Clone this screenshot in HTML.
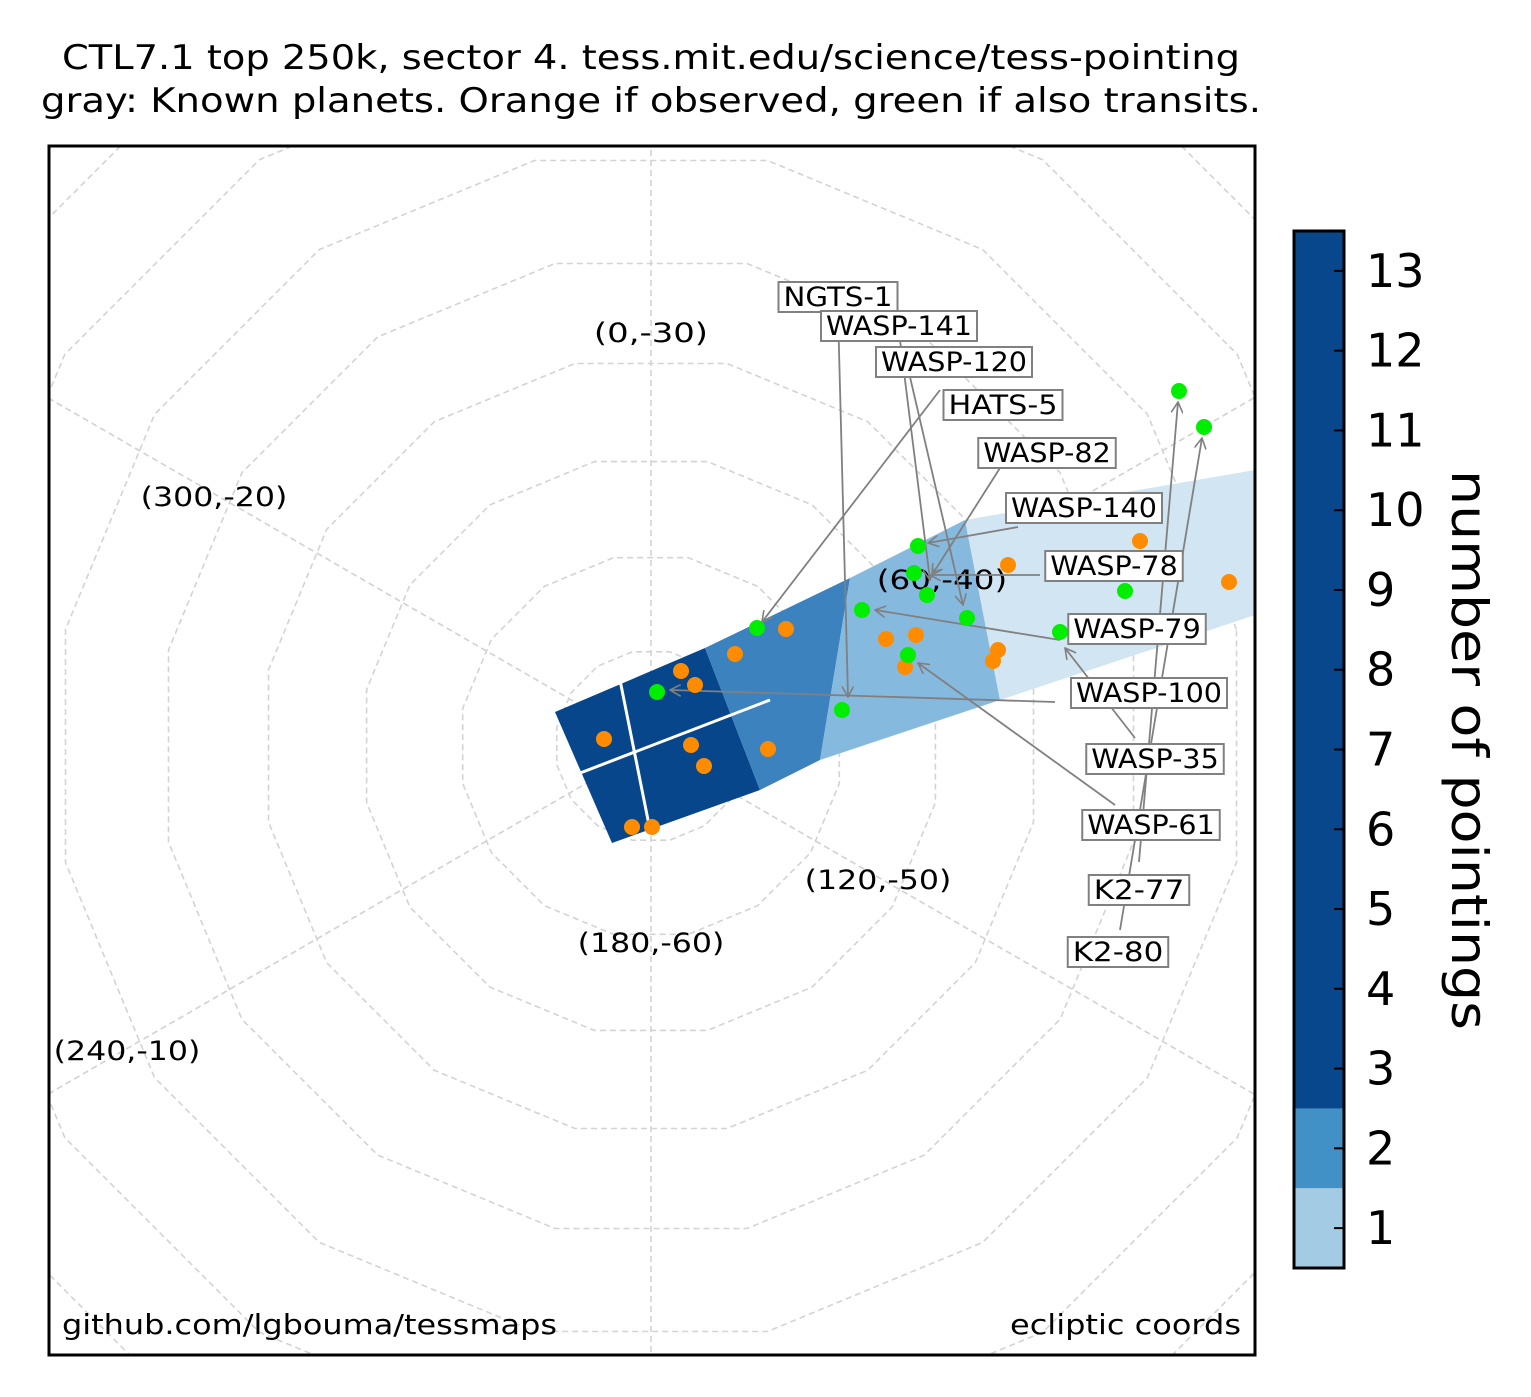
<!DOCTYPE html>
<html><head><meta charset="utf-8"><style>
html,body{margin:0;background:#fff;overflow:hidden;width:1531px;height:1397px}
svg{display:block;font-family:"DejaVu Sans","Liberation Sans",sans-serif}
</style></head><body>
<svg id="chart" width="1531" height="1397" viewBox="0 0 1531 1397" xmlns="http://www.w3.org/2000/svg">
<text x="651" y="69" font-size="34" text-anchor="middle" textLength="1178" lengthAdjust="spacingAndGlyphs">CTL7.1 top 250k, sector 4. tess.mit.edu/science/tess-pointing</text>
<text x="651" y="112" font-size="34" text-anchor="middle" textLength="1220" lengthAdjust="spacingAndGlyphs">gray: Known planets. Orange if observed, green if also transits.</text>
<defs><clipPath id="pc"><rect x="49" y="146" width="1206" height="1209"/></clipPath>
<marker id="ar" viewBox="0 0 12 12" refX="11" refY="6" markerWidth="12" markerHeight="12" orient="auto" markerUnits="userSpaceOnUse"><path d="M0,0 L11,6 L0,12" fill="none" stroke="#808080" stroke-width="1.6"/></marker></defs>
<g id="plot" clip-path="url(#pc)"></g>
<rect x="49" y="146" width="1206" height="1209" fill="none" stroke="#000" stroke-width="3"/>
<text x="62" y="1334" font-size="28" textLength="495" lengthAdjust="spacingAndGlyphs">github.com/lgbouma/tessmaps</text>
<text x="1010" y="1334" font-size="28" textLength="231" lengthAdjust="spacingAndGlyphs">ecliptic coords</text>
<g id="cbar"></g>
<text transform="translate(1452,750) rotate(90)" font-size="50" text-anchor="middle" textLength="560" lengthAdjust="spacingAndGlyphs">number of pointings</text>
</svg>
<script>
const NS="http://www.w3.org/2000/svg";
const plot=document.getElementById('plot');
function mk(tag,attrs,parent){const e=document.createElementNS(NS,tag);for(const k in attrs)e.setAttribute(k,attrs[k]);(parent||plot).appendChild(e);return e;}
const cx=651, cy=746;
const gridRadii=[96,192,290,390,492,597,705,815];
const radialAngles=[30,90,150,210,270,330];
const gridLabels=["(0,-30)","(300,-20)","(240,-10)","(180,-60)","(120,-50)","(60,-40)"];
const gridLabelX=[651,214,127,651,878,942];
const gridLabelY=[333,497,1051,943,880,580];
const cameraPolys=[
 [[555,712],[705,648],[760,790],[612,843]],
 [[705,648],[850,578],[820,760],[760,790]],
 [[850,578],[965,520],[1000,700],[820,760]],
 [[965,520],[1255,470],[1255,615],[1000,700]]];
const cameraColors=["#08468c","#3b82bf","#86b9de","#d2e5f2"];
const greenX=[1179,1204,918,914,927,862,967,1060,1125,908,842,757,657];
const greenY=[391,427,546,573,595,610,618,632,591,655,710,628,692];
const orangeX=[1140,1008,1229,786,735,886,916,998,993,905,681,695,604,691,704,768,632,652];
const orangeY=[541,565,582,629,654,639,635,650,661,667,671,685,739,745,766,749,827,827];
const labelNames=["NGTS-1","WASP-141","WASP-120","HATS-5","WASP-82","WASP-140","WASP-78","WASP-79","WASP-100","WASP-35","WASP-61","K2-77","K2-80"];
const labelX=[838,899,954,1003,1047,1084,1114,1137,1149,1155,1151,1139,1118];
const labelY=[297,326,362,405,453,508,566,629,693,759,825,890,952];
const arrowFromX=[838,900,910,940,1000,1018,1040,1060,1055,1135,1115,1139,1120];
const arrowFromY=[311,340,377,390,468,527,575,640,702,738,805,862,930];
const arrowToX=[848,930,963,762,932,928,930,875,670,1065,918,1178,1202];
const arrowToY=[697,580,605,622,575,543,575,610,690,648,663,402,438];

radialAngles.forEach(a=>{const r=a*Math.PI/180;const l=mk('line',{x1:cx,y1:cy,x2:cx+1200*Math.cos(r),y2:cy-1200*Math.sin(r),stroke:'#d3d3d3','stroke-width':1.6,'stroke-dasharray':'6,4'});

});
gridRadii.forEach(R=>{let p=[];for(let i=0;i<16;i++){const a=(i*22.5+11.25)*Math.PI/180;p.push((cx+R*Math.cos(a)).toFixed(1)+','+(cy-R*Math.sin(a)).toFixed(1));}
const g=mk('polygon',{points:p.join(' '),fill:'none',stroke:'#d3d3d3','stroke-width':1.6,'stroke-dasharray':'6,4'});

});
cameraPolys.forEach((pts,i)=>{const p=mk('polygon',{points:pts.map(q=>q.join(',')).join(' '),fill:cameraColors[i]});

});
[[[620,680],[650,830]],[[575,775],[770,700]]].forEach(s=>{const l=mk('line',{x1:s[0][0],y1:s[0][1],x2:s[1][0],y2:s[1][1],stroke:'#fff','stroke-width':3});

});
gridLabels.forEach((t,i)=>{const e=mk('text',{x:gridLabelX[i],y:gridLabelY[i]+9,'font-size':27,'text-anchor':'middle',textLength:t.length*16.3,lengthAdjust:'spacingAndGlyphs'});e.textContent=t;

});
labelNames.forEach((n,i)=>{const l=mk('line',{x1:arrowFromX[i],y1:arrowFromY[i],x2:arrowToX[i],y2:arrowToY[i],stroke:'#808080','stroke-width':1.8,'marker-end':'url(#ar)'});

});
orangeX.forEach((x,i)=>{const c=mk('circle',{cx:x,cy:orangeY[i],r:8,fill:'#ff8c00'});

});
greenX.forEach((x,i)=>{const c=mk('circle',{cx:x,cy:greenY[i],r:8,fill:'#00ee00'});

});
labelNames.forEach((n,i)=>{const w=n.length*18.5+8;const r=mk('rect',{x:labelX[i]-w/2,y:labelY[i]-15,width:w,height:30,fill:'#fff',stroke:'#808080','stroke-width':2});


const t=mk('text',{x:labelX[i],y:labelY[i]+9,'font-size':27,'text-anchor':'middle',textLength:w-10,lengthAdjust:'spacingAndGlyphs'});t.textContent=n;

});
const cb=document.getElementById('cbar');
const cbTicks=[1,2,3,4,5,6,7,8,9,10,11,12,13];
const yv=v=>1268-(v-0.5)*79.77;
const segs=[[0.5,1.5,'#a3cbe3'],[1.5,2.5,'#4190c6'],[2.5,13.5,'#08478c']];
segs.forEach(s=>{const r=mk('rect',{x:1294,y:yv(s[1]),width:50,height:yv(s[0])-yv(s[1]),fill:s[2]},cb);

});
const fr=mk('rect',{x:1294,y:231,width:50,height:1037,fill:'none',stroke:'#000','stroke-width':3},cb);


cbTicks.forEach(v=>{mk('line',{x1:1334,y1:yv(v),x2:1344,y2:yv(v),stroke:'#000','stroke-width':2},cb);
const t=mk('text',{x:1366,y:yv(v)+16,'font-size':46},cb);t.textContent=v;

});
</script>
</body></html>
